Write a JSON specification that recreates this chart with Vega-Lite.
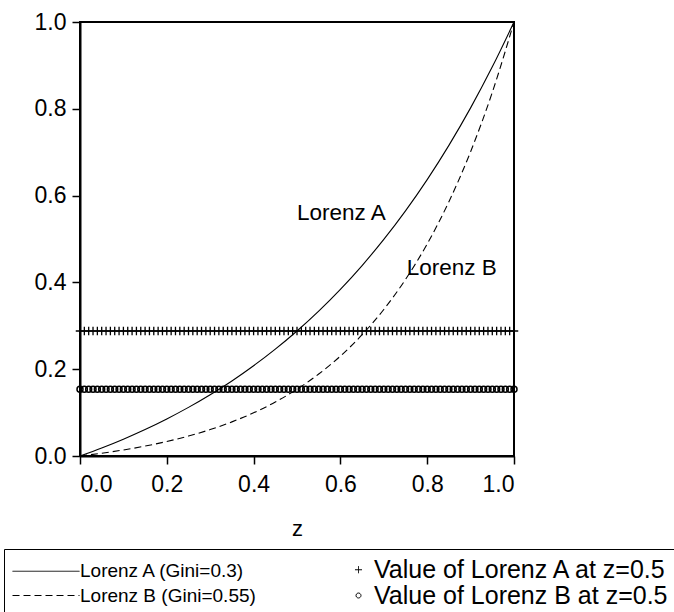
{
  "$schema": "https://vega.github.io/schema/vega-lite/v6.json",
  "width": 434,
  "height": 434,
  "autosize": {"type": "none"},
  "padding": {"left": 80, "top": 22, "right": 160, "bottom": 156},
  "background": "white",
  "config": {
    "font": "Liberation Sans",
    "view": {"stroke": "black", "strokeWidth": 2},
    "axis": {
      "grid": false, "domainColor": "black", "domainWidth": 2,
      "tickColor": "black", "tickWidth": 1.5, "tickSize": 8,
      "labelColor": "black", "labelFontSize": 23, "labelFont": "Liberation Sans",
      "titleFont": "Liberation Sans", "titleFontSize": 22, "titleFontWeight": "normal", "titleColor": "black"
    }
  },
  "datasets": {
    "curves": [
      {"z": 0.00, "A": 0.0, "B": 0.0},
      {"z": 0.05, "A": 0.0185, "B": 0.0064},
      {"z": 0.10, "A": 0.0388, "B": 0.0139},
      {"z": 0.15, "A": 0.0610, "B": 0.0228},
      {"z": 0.20, "A": 0.0854, "B": 0.0334},
      {"z": 0.25, "A": 0.1120, "B": 0.0460},
      {"z": 0.30, "A": 0.1411, "B": 0.0609},
      {"z": 0.35, "A": 0.1730, "B": 0.0786},
      {"z": 0.40, "A": 0.2080, "B": 0.0995},
      {"z": 0.45, "A": 0.2462, "B": 0.1243},
      {"z": 0.50, "A": 0.2881, "B": 0.1538},
      {"z": 0.55, "A": 0.3339, "B": 0.1888},
      {"z": 0.60, "A": 0.3840, "B": 0.2302},
      {"z": 0.65, "A": 0.4389, "B": 0.2794},
      {"z": 0.70, "A": 0.4991, "B": 0.3376},
      {"z": 0.75, "A": 0.5649, "B": 0.4068},
      {"z": 0.80, "A": 0.6369, "B": 0.4887},
      {"z": 0.85, "A": 0.7158, "B": 0.5859},
      {"z": 0.90, "A": 0.8021, "B": 0.7012},
      {"z": 0.95, "A": 0.8967, "B": 0.8379},
      {"z": 1.00, "A": 1.0, "B": 1.0}
    ],
    "markers": [
      {"z":0.00,"a":0.288,"b":0.154},{"z":0.01,"a":0.288,"b":0.154},{"z":0.02,"a":0.288,"b":0.154},{"z":0.03,"a":0.288,"b":0.154},{"z":0.04,"a":0.288,"b":0.154},
      {"z":0.05,"a":0.288,"b":0.154},{"z":0.06,"a":0.288,"b":0.154},{"z":0.07,"a":0.288,"b":0.154},{"z":0.08,"a":0.288,"b":0.154},{"z":0.09,"a":0.288,"b":0.154},
      {"z":0.10,"a":0.288,"b":0.154},{"z":0.11,"a":0.288,"b":0.154},{"z":0.12,"a":0.288,"b":0.154},{"z":0.13,"a":0.288,"b":0.154},{"z":0.14,"a":0.288,"b":0.154},
      {"z":0.15,"a":0.288,"b":0.154},{"z":0.16,"a":0.288,"b":0.154},{"z":0.17,"a":0.288,"b":0.154},{"z":0.18,"a":0.288,"b":0.154},{"z":0.19,"a":0.288,"b":0.154},
      {"z":0.20,"a":0.288,"b":0.154},{"z":0.21,"a":0.288,"b":0.154},{"z":0.22,"a":0.288,"b":0.154},{"z":0.23,"a":0.288,"b":0.154},{"z":0.24,"a":0.288,"b":0.154},
      {"z":0.25,"a":0.288,"b":0.154},{"z":0.26,"a":0.288,"b":0.154},{"z":0.27,"a":0.288,"b":0.154},{"z":0.28,"a":0.288,"b":0.154},{"z":0.29,"a":0.288,"b":0.154},
      {"z":0.30,"a":0.288,"b":0.154},{"z":0.31,"a":0.288,"b":0.154},{"z":0.32,"a":0.288,"b":0.154},{"z":0.33,"a":0.288,"b":0.154},{"z":0.34,"a":0.288,"b":0.154},
      {"z":0.35,"a":0.288,"b":0.154},{"z":0.36,"a":0.288,"b":0.154},{"z":0.37,"a":0.288,"b":0.154},{"z":0.38,"a":0.288,"b":0.154},{"z":0.39,"a":0.288,"b":0.154},
      {"z":0.40,"a":0.288,"b":0.154},{"z":0.41,"a":0.288,"b":0.154},{"z":0.42,"a":0.288,"b":0.154},{"z":0.43,"a":0.288,"b":0.154},{"z":0.44,"a":0.288,"b":0.154},
      {"z":0.45,"a":0.288,"b":0.154},{"z":0.46,"a":0.288,"b":0.154},{"z":0.47,"a":0.288,"b":0.154},{"z":0.48,"a":0.288,"b":0.154},{"z":0.49,"a":0.288,"b":0.154},
      {"z":0.50,"a":0.288,"b":0.154},{"z":0.51,"a":0.288,"b":0.154},{"z":0.52,"a":0.288,"b":0.154},{"z":0.53,"a":0.288,"b":0.154},{"z":0.54,"a":0.288,"b":0.154},
      {"z":0.55,"a":0.288,"b":0.154},{"z":0.56,"a":0.288,"b":0.154},{"z":0.57,"a":0.288,"b":0.154},{"z":0.58,"a":0.288,"b":0.154},{"z":0.59,"a":0.288,"b":0.154},
      {"z":0.60,"a":0.288,"b":0.154},{"z":0.61,"a":0.288,"b":0.154},{"z":0.62,"a":0.288,"b":0.154},{"z":0.63,"a":0.288,"b":0.154},{"z":0.64,"a":0.288,"b":0.154},
      {"z":0.65,"a":0.288,"b":0.154},{"z":0.66,"a":0.288,"b":0.154},{"z":0.67,"a":0.288,"b":0.154},{"z":0.68,"a":0.288,"b":0.154},{"z":0.69,"a":0.288,"b":0.154},
      {"z":0.70,"a":0.288,"b":0.154},{"z":0.71,"a":0.288,"b":0.154},{"z":0.72,"a":0.288,"b":0.154},{"z":0.73,"a":0.288,"b":0.154},{"z":0.74,"a":0.288,"b":0.154},
      {"z":0.75,"a":0.288,"b":0.154},{"z":0.76,"a":0.288,"b":0.154},{"z":0.77,"a":0.288,"b":0.154},{"z":0.78,"a":0.288,"b":0.154},{"z":0.79,"a":0.288,"b":0.154},
      {"z":0.80,"a":0.288,"b":0.154},{"z":0.81,"a":0.288,"b":0.154},{"z":0.82,"a":0.288,"b":0.154},{"z":0.83,"a":0.288,"b":0.154},{"z":0.84,"a":0.288,"b":0.154},
      {"z":0.85,"a":0.288,"b":0.154},{"z":0.86,"a":0.288,"b":0.154},{"z":0.87,"a":0.288,"b":0.154},{"z":0.88,"a":0.288,"b":0.154},{"z":0.89,"a":0.288,"b":0.154},
      {"z":0.90,"a":0.288,"b":0.154},{"z":0.91,"a":0.288,"b":0.154},{"z":0.92,"a":0.288,"b":0.154},{"z":0.93,"a":0.288,"b":0.154},{"z":0.94,"a":0.288,"b":0.154},
      {"z":0.95,"a":0.288,"b":0.154},{"z":0.96,"a":0.288,"b":0.154},{"z":0.97,"a":0.288,"b":0.154},{"z":0.98,"a":0.288,"b":0.154},{"z":0.99,"a":0.288,"b":0.154},
      {"z":1.00,"a":0.288,"b":0.154}
    ],
    "labels": [
      {"z": 0.5, "y": 0.544, "t": "Lorenz A"},
      {"z": 0.753, "y": 0.417, "t": "Lorenz B"}
    ]
  },
  "layer": [
    {
      "data": {"name": "curves"},
      "mark": {"type": "line", "strokeWidth": 1.1, "interpolate": "monotone"},
      "encoding": {
        "x": {"field": "z", "type": "quantitative", "scale": {"domain": [0, 1], "nice": false, "zero": false},
              "axis": {"values": [0, 0.2, 0.4, 0.6, 0.8, 1.0], "format": ".1f", "title": "z", "labelPadding": 9, "titlePadding": 22}},
        "y": {"field": "A", "type": "quantitative", "scale": {"domain": [0, 1], "nice": false},
              "axis": {"values": [0, 0.2, 0.4, 0.6, 0.8, 1.0], "format": ".1f", "labelPadding": 6}, "title": null},
        "color": {
          "datum": "Lorenz A (Gini=0.3)", "type": "nominal",
          "scale": {"domain": ["Lorenz A (Gini=0.3)", "Lorenz B (Gini=0.55)", "Value of Lorenz A at z=0.5", "Value of Lorenz B at z=0.5"], "range": ["black", "black", "black", "black"]},
          "legend": {
            "title": null, "orient": "none", "legendX": -76, "legendY": 527,
            "columns": 2, "strokeColor": "black", "padding": 8,
            "symbolSize": 256, "labelFontSize": 19, "labelColor": "black", "labelFont": "Liberation Sans",
            "labelOffset": 10, "rowPadding": 0, "columnPadding": 90, "labelLimit": 0,
            "encode": {
              "symbols": {
                "update": {
                  "shape": {"signal": "(datum.value === 'Lorenz A (Gini=0.3)' || datum.value === 'Lorenz B (Gini=0.55)') ? 'M-1.5,0H6.875' : (datum.value === 'Value of Lorenz A at z=0.5' ? 'M-0.44,0H0.44M0,-0.44V0.44' : 'M0.31,0A0.31,0.31,0,1,1,-0.31,0A0.31,0.31,0,1,1,0.31,0')"},
                  "strokeDash": {"signal": "datum.value === 'Lorenz B (Gini=0.55)' ? [7,4] : [1,0]"},
                  "fill": {"value": "transparent"},
                  "stroke": {"value": "black"},
                  "strokeWidth": {"value": 1},
                  "size": {"value": 256},
                  "opacity": {"value": 1}
                }
              },
              "labels": {
                "update": {
                  "x": {"signal": "(datum.value === 'Lorenz A (Gini=0.3)' || datum.value === 'Lorenz B (Gini=0.55)') ? 68 : 28"},
                  "fontSize": {"signal": "(datum.value === 'Lorenz A (Gini=0.3)' || datum.value === 'Lorenz B (Gini=0.55)') ? 19 : 25"}
                }
              }
            }
          }
        }
      }
    },
    {
      "data": {"name": "curves"},
      "mark": {"type": "line", "strokeWidth": 1.1, "interpolate": "monotone", "strokeDash": [7, 4]},
      "encoding": {
        "x": {"field": "z", "type": "quantitative"},
        "y": {"field": "B", "type": "quantitative", "title": null},
        "color": {"datum": "Lorenz B (Gini=0.55)", "type": "nominal",
          "scale": {"domain": ["Lorenz A (Gini=0.3)", "Lorenz B (Gini=0.55)", "Value of Lorenz A at z=0.5", "Value of Lorenz B at z=0.5"], "range": ["black", "black", "black", "black"]}}
      }
    },
    {
      "data": {"name": "markers"},
      "mark": {"type": "point", "shape": "M-1,0H1M0,-1V1", "size": 72, "filled": false, "strokeWidth": 1.3, "opacity": 1},
      "encoding": {
        "x": {"field": "z", "type": "quantitative"},
        "y": {"field": "a", "type": "quantitative", "title": null},
        "color": {"datum": "Value of Lorenz A at z=0.5", "type": "nominal",
          "scale": {"domain": ["Lorenz A (Gini=0.3)", "Lorenz B (Gini=0.55)", "Value of Lorenz A at z=0.5", "Value of Lorenz B at z=0.5"], "range": ["black", "black", "black", "black"]}}
      }
    },
    {
      "data": {"name": "markers"},
      "mark": {"type": "point", "shape": "circle", "size": 36, "filled": false, "strokeWidth": 1.5, "opacity": 1},
      "encoding": {
        "x": {"field": "z", "type": "quantitative"},
        "y": {"field": "b", "type": "quantitative", "title": null},
        "color": {"datum": "Value of Lorenz B at z=0.5", "type": "nominal",
          "scale": {"domain": ["Lorenz A (Gini=0.3)", "Lorenz B (Gini=0.55)", "Value of Lorenz A at z=0.5", "Value of Lorenz B at z=0.5"], "range": ["black", "black", "black", "black"]}}
      }
    },
    {
      "data": {"name": "labels"},
      "mark": {"type": "text", "align": "left", "baseline": "alphabetic", "fontSize": 22.5, "font": "Liberation Sans", "color": "black"},
      "encoding": {
        "x": {"field": "z", "type": "quantitative"},
        "y": {"field": "y", "type": "quantitative", "title": null},
        "text": {"field": "t"}
      }
    }
  ]
}
